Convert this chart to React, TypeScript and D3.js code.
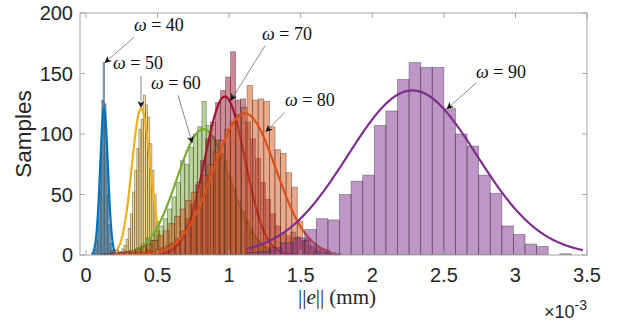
import React from 'react';
import * as d3 from 'd3';

// omega values of the six runs
const omegas = [40, 50, 60, 70, 80, 90];

// histogram bins, x in units of 1e-3 mm
const binStart = [0.04, 0.22, 0.30, 0.10, 0.189, 1.123];
const binWidth = [0.01, 0.015, 0.03, 0.035, 0.039, 0.081];

const counts40 = [1, 2, 5, 12, 30, 55, 90, 128, 159, 125, 85, 50, 25, 10, 4, 2, 1];
const counts50 = [2, 3, 5, 8, 13, 22, 34, 52, 70, 88, 104, 112, 132, 124, 114, 92, 70, 50, 28, 14];
const counts60 = [2, 3, 6, 9, 14, 12, 20, 24, 30, 38, 48, 60, 78, 75, 89, 100, 106, 127, 107, 98,
  95, 84, 78, 64, 55, 44, 36, 28, 20, 14, 10, 6, 4, 2];
const counts70 = [1, 1, 2, 1, 2, 3, 2, 3, 2, 4, 3, 5, 6, 8, 10, 14, 20, 30, 42, 58, 78,
  96, 110, 126, 136, 147, 168, 128, 129, 110, 96, 80, 60, 46, 34, 24, 18,
  16, 19, 15, 12, 14, 8, 6, 4, 3, 2, 1];
const counts80 = [4, 2, 3, 4, 5, 7, 9, 12, 16, 20, 26, 32, 38, 45, 52, 60, 66, 75, 85, 95, 104,
  110, 116, 122, 140, 128, 129, 127, 106, 87, 84, 68, 56, 28, 12, 6, 3, 2, 1];
const counts90 = [2, 3, 6, 10, 14, 21, 30, 29, 50, 61, 66, 107, 119, 145, 159, 155, 155, 121,
  100, 90, 66, 51, 24, 17, 9, 7, 0, 1, 0];
const allCounts = [counts40, counts50, counts60, counts70, counts80, counts90];

// fitted normal curves (mean, sigma in 1e-3 mm, peak in samples, plotted range)
const fitMean = [0.126, 0.385, 0.82, 0.97, 1.11, 2.28];
const fitSigma = [0.027, 0.065, 0.185, 0.14, 0.217, 0.45];
const fitPeak = [121, 121, 104, 131, 117, 136];
const fitFrom = [0.04, 0.215, 0.30, 0.15, 0.19, 1.123];
const fitTo = [0.21, 0.52, 1.32, 1.775, 1.71, 3.472];

const xTicks = [0, 0.5, 1, 1.5, 2, 2.5, 3, 3.5];
const yTicks = [0, 50, 100, 150, 200];

// annotations: label centre, arrow tail and head, in data units
const labelX = [0.335, 0.189, 0.454, 1.23, 1.39, 2.725];
const labelY = [190, 158.5, 142, 182, 128, 151];
const tailX = [0.335, 0.384, 0.643, 1.251, 1.39, 2.725];
const tailY = [180, 148, 132, 173, 118, 142];
const headX = [0.133, 0.384, 0.741, 1.013, 1.258, 2.523];
const headY = [159, 122, 93, 128, 102, 121];

const palette = ['#0072BD', '#EDB120', '#77AC30', '#A2142F', '#D95319', '#7E2F8E'];

const W = 619;
const H = 323;
const left = 80, right = 587, top = 13, bottom = 255;

export default function App() {
  const x = d3.scaleLinear().domain([-0.042, 3.5]).range([left, right]);
  const y = d3.scaleLinear().domain([0, 200]).range([bottom, top]);
  const axisCol = '#a6a6a6';
  const textCol = '#262626';
  const sans = 'Liberation Sans, Arial, sans-serif';

  const curve = (i: number) => {
    const pts = d3.range(0, 1.0001, 0.005).map(t => {
      const xv = fitFrom[i] + t * (fitTo[i] - fitFrom[i]);
      const z = (xv - fitMean[i]) / fitSigma[i];
      return [xv, fitPeak[i] * Math.exp(-0.5 * z * z)] as [number, number];
    });
    return d3.line<[number, number]>().x(d => x(d[0])).y(d => y(d[1]))(pts) || '';
  };

  return (
    <svg width={W} height={H} style={{ position: 'absolute', left: 0, top: 0, background: '#fff' }}>
      <defs>
        <clipPath id="plot">
          <rect x={left} y={top} width={right - left} height={bottom - top} />
        </clipPath>
        <marker id="head" viewBox="0 0 10 10" refX="9" refY="5" markerWidth="7" markerHeight="7"
          markerUnits="userSpaceOnUse" orient="auto">
          <path d="M0,0 L10,5 L0,10 L3,5 Z" fill="#111" />
        </marker>
      </defs>
      <rect x={left} y={top} width={right - left} height={bottom - top} fill="#fff" />
      <g clipPath="url(#plot)">
        {omegas.map((w, i) => (
          <g key={w}>
            {allCounts[i].map((c, k) => {
              const x0 = binStart[i] + k * binWidth[i];
              if (c <= 0) return null;
              return (
                <rect key={k} x={x(x0)} y={y(c)} width={x(x0 + binWidth[i]) - x(x0)}
                  height={y(0) - y(c)} fill={palette[i]} fillOpacity={0.5}
                  stroke="#262626" strokeOpacity={0.45} strokeWidth={0.8} />
              );
            })}
            <path d={curve(i)} fill="none" stroke={palette[i]} strokeWidth={2.2} strokeLinejoin="round" />
          </g>
        ))}
      </g>
      {/* axes box */}
      <rect x={left} y={top} width={right - left} height={bottom - top} fill="none" stroke={axisCol} strokeWidth={1} />
      {xTicks.map(t => (
        <g key={t}>
          <line x1={x(t)} x2={x(t)} y1={bottom} y2={bottom - 5} stroke={axisCol} />
          <line x1={x(t)} x2={x(t)} y1={top} y2={top + 5} stroke={axisCol} />
          <text x={x(t)} y={bottom + 27} textAnchor="middle" fontFamily={sans}
            fontSize={20} fill={textCol}>{t}</text>
        </g>
      ))}
      {yTicks.map(t => (
        <g key={t}>
          <line x1={left} x2={left + 5} y1={y(t)} y2={y(t)} stroke={axisCol} />
          <line x1={right} x2={right - 5} y1={y(t)} y2={y(t)} stroke={axisCol} />
          <text x={left - 7} y={y(t)} dy="0.35em" textAnchor="end" fontFamily={sans}
            fontSize={20} fill={textCol}>{t}</text>
        </g>
      ))}
      <text transform={`translate(31, ${(top + bottom) / 2}) rotate(-90)`} textAnchor="middle"
        fontFamily={sans} fontSize={22.5} fill={textCol}>Samples</text>
      <text x={337} y={304} textAnchor="middle" fontFamily="Liberation Serif, serif"
        fontSize={21} fill={textCol}>
        ||<tspan fontStyle="italic">e</tspan>|| (mm)
      </text>
      <text x={544} y={318} fontFamily={sans} fontSize={18} fill={textCol}>
        ×10<tspan dy={-8} fontSize={14}>-3</tspan>
      </text>
      {/* annotations */}
      {omegas.map((w, i) => (
        <g key={'a' + w}>
          <line x1={x(tailX[i])} y1={y(tailY[i])} x2={x(headX[i])} y2={y(headY[i])}
            stroke="#555" strokeWidth={0.7} markerEnd="url(#head)" />
          <text x={x(labelX[i])} y={y(labelY[i])} dy="0.3em" fontFamily="Liberation Serif, serif"
            fontSize={18} fill="#111">
            <tspan fontStyle="italic">ω</tspan> = {w}
          </text>
        </g>
      ))}
    </svg>
  );
}
